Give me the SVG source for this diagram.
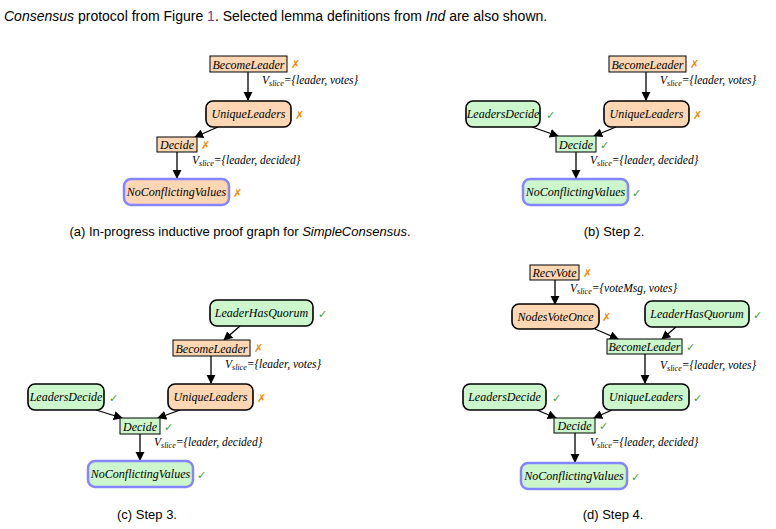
<svg xmlns="http://www.w3.org/2000/svg" width="776" height="529" viewBox="0 0 776 529">
<style>
.t{font-family:"Liberation Serif",serif;font-style:italic;font-size:12px;text-anchor:middle}
.l{font-family:"Liberation Serif",serif;font-style:italic;font-size:11.5px}
.s{font-size:8px}
.c{font-family:"Liberation Sans",sans-serif;font-size:13px;text-anchor:middle}
.o{fill:#fdd7b4}.g{fill:#ccf7cc}
.a{stroke:#000;stroke-width:1}
.r{stroke:#000;stroke-width:1.6}
.b{stroke:#8585ff;stroke-width:2.5}
.x{fill:#f08a00;font-family:"DejaVu Sans",sans-serif;font-size:11px}
.k{fill:#3ca03c;font-family:"DejaVu Sans",sans-serif;font-size:11px}
.e{stroke:#000;stroke-width:1.3;fill:none;marker-end:url(#m)}
</style>
<defs><marker id="m" viewBox="0 0 10 10" refX="9" refY="5" markerWidth="7" markerHeight="7" orient="auto"><path d="M0,0L10,5L0,10z" fill="#000"/></marker></defs>
<text x="4" y="21" font-family="Liberation Sans,sans-serif" font-size="14"><tspan font-style="italic">Consensus</tspan> protocol from Figure <tspan fill="#8a3a8a">1</tspan>. Selected lemma definitions from <tspan font-style="italic">Ind</tspan> are also shown.</text>

<g id="connectors">
<path class="e" d="M248,72V100"/><path class="e" d="M218,127L195,137"/><path class="e" d="M177,152V178"/>
<path class="e" d="M646,72V100"/><path class="e" d="M532,127L558,136"/><path class="e" d="M616,127L594,136"/><path class="e" d="M576,152V178"/>
<path class="e" d="M240,326L224,340"/><path class="e" d="M211,356V383"/><path class="e" d="M96,410L122,418"/><path class="e" d="M180,410L158,418"/><path class="e" d="M140,434V460"/>
<path class="e" d="M555,280V304"/><path class="e" d="M595,329L618,339"/><path class="e" d="M676,327L662,339"/><path class="e" d="M645,354V383"/><path class="e" d="M537,410L556,418"/><path class="e" d="M612,410L594,418"/><path class="e" d="M575,433V462"/>
</g>

<text class="l" x="262" y="84">V<tspan class="s" dy="2">slice</tspan><tspan dy="-2">={leader, votes}</tspan></text>
<text class="l" x="192" y="164">V<tspan class="s" dy="2">slice</tspan><tspan dy="-2">={leader, decided}</tspan></text>
<text class="l" x="660" y="84">V<tspan class="s" dy="2">slice</tspan><tspan dy="-2">={leader, votes}</tspan></text>
<text class="l" x="590" y="164">V<tspan class="s" dy="2">slice</tspan><tspan dy="-2">={leader, decided}</tspan></text>
<text class="l" x="225" y="368">V<tspan class="s" dy="2">slice</tspan><tspan dy="-2">={leader, votes}</tspan></text>
<text class="l" x="154" y="446">V<tspan class="s" dy="2">slice</tspan><tspan dy="-2">={leader, decided}</tspan></text>
<text class="l" x="570" y="292">V<tspan class="s" dy="2">slice</tspan><tspan dy="-2">={voteMsg, votes}</tspan></text>
<text class="l" x="660" y="369">V<tspan class="s" dy="2">slice</tspan><tspan dy="-2">={leader, votes}</tspan></text>
<text class="l" x="590" y="446">V<tspan class="s" dy="2">slice</tspan><tspan dy="-2">={leader, decided}</tspan></text>

<g id="a-BecomeLeader"><rect class="o a" x="210" y="56" width="77" height="16"/><text class="t" x="248.5" y="68.5">BecomeLeader</text><text class="x" x="291" y="68">✗</text></g>
<g id="a-UniqueLeaders"><rect class="o r" x="206" y="101" width="85" height="26" rx="7"/><text class="t" x="248.5" y="118">UniqueLeaders</text><text class="x" x="295" y="119">✗</text></g>
<g id="a-Decide"><rect class="o a" x="157" y="137" width="40" height="15"/><text class="t" x="177" y="149">Decide</text><text class="x" x="201" y="149">✗</text></g>
<g id="a-NoConflictingValues"><rect class="o b" x="124" y="179" width="105" height="26" rx="7"/><text class="t" x="176.5" y="196">NoConflictingValues</text><text class="x" x="233" y="197">✗</text></g>
<text class="c" x="240" y="236">(a) In-progress inductive proof graph for <tspan font-style="italic">SimpleConsensus</tspan>.</text>

<g id="b-BecomeLeader"><rect class="o a" x="609" y="56" width="77" height="16"/><text class="t" x="647.5" y="68.5">BecomeLeader</text><text class="x" x="690" y="68">✗</text></g>
<g id="b-UniqueLeaders"><rect class="o r" x="604" y="101" width="85" height="26" rx="7"/><text class="t" x="646.5" y="118">UniqueLeaders</text><text class="x" x="693" y="119">✗</text></g>
<g id="b-LeadersDecide"><rect class="g r" x="466" y="101" width="74" height="26" rx="7"/><text class="t" x="503" y="118">LeadersDecide</text><text class="k" x="546" y="119">✓</text></g>
<g id="b-Decide"><rect class="g a" x="556" y="136" width="40" height="16"/><text class="t" x="576" y="148.5">Decide</text><text class="k" x="600" y="149">✓</text></g>
<g id="b-NoConflictingValues"><rect class="g b" x="523" y="179" width="105" height="26" rx="7"/><text class="t" x="575.5" y="196">NoConflictingValues</text><text class="k" x="632" y="197">✓</text></g>
<text class="c" x="614" y="236">(b) Step 2.</text>

<g id="c-LeaderHasQuorum"><rect class="g r" x="210" y="300" width="103" height="26" rx="7"/><text class="t" x="261.5" y="317">LeaderHasQuorum</text><text class="k" x="318" y="318">✓</text></g>
<g id="c-BecomeLeader"><rect class="o a" x="173" y="340" width="77" height="16"/><text class="t" x="211.5" y="352.5">BecomeLeader</text><text class="x" x="254" y="352">✗</text></g>
<g id="c-UniqueLeaders"><rect class="o r" x="168" y="384" width="85" height="26" rx="7"/><text class="t" x="210.5" y="401">UniqueLeaders</text><text class="x" x="257" y="402">✗</text></g>
<g id="c-LeadersDecide"><rect class="g r" x="28" y="384" width="76" height="26" rx="7"/><text class="t" x="66" y="401">LeadersDecide</text><text class="k" x="109" y="402">✓</text></g>
<g id="c-Decide"><rect class="g a" x="120" y="418" width="40" height="16"/><text class="t" x="140" y="430.5">Decide</text><text class="k" x="164" y="431">✓</text></g>
<g id="c-NoConflictingValues"><rect class="g b" x="88" y="461" width="105" height="26" rx="7"/><text class="t" x="140.5" y="478">NoConflictingValues</text><text class="k" x="197" y="479">✓</text></g>
<text class="c" x="147" y="519">(c) Step 3.</text>

<g id="d-RecvVote"><rect class="o a" x="530" y="265" width="49" height="15"/><text class="t" x="554.5" y="277">RecvVote</text><text class="x" x="583" y="277">✗</text></g>
<g id="d-NodesVoteOnce"><rect class="o r" x="512" y="304" width="87" height="25" rx="7"/><text class="t" x="555.5" y="320.5">NodesVoteOnce</text><text class="x" x="602" y="321">✗</text></g>
<g id="d-LeaderHasQuorum"><rect class="g r" x="645" y="301" width="104" height="26" rx="7"/><text class="t" x="697" y="318">LeaderHasQuorum</text><text class="k" x="753" y="319">✓</text></g>
<g id="d-BecomeLeader"><rect class="g a" x="607" y="339" width="75" height="15"/><text class="t" x="644.5" y="351">BecomeLeader</text><text class="k" x="686" y="351">✓</text></g>
<g id="d-UniqueLeaders"><rect class="g r" x="603" y="384" width="86" height="26" rx="7"/><text class="t" x="646" y="401">UniqueLeaders</text><text class="k" x="693" y="402">✓</text></g>
<g id="d-LeadersDecide"><rect class="g r" x="463" y="384" width="83" height="26" rx="7"/><text class="t" x="504.5" y="401">LeadersDecide</text><text class="k" x="552" y="402">✓</text></g>
<g id="d-Decide"><rect class="g a" x="554" y="418" width="41" height="15"/><text class="t" x="574.5" y="430">Decide</text><text class="k" x="599" y="430">✓</text></g>
<g id="d-NoConflictingValues"><rect class="g b" x="521" y="463" width="106" height="26" rx="7"/><text class="t" x="574" y="480">NoConflictingValues</text><text class="k" x="631" y="481">✓</text></g>
<text class="c" x="613" y="519">(d) Step 4.</text>
</svg>
